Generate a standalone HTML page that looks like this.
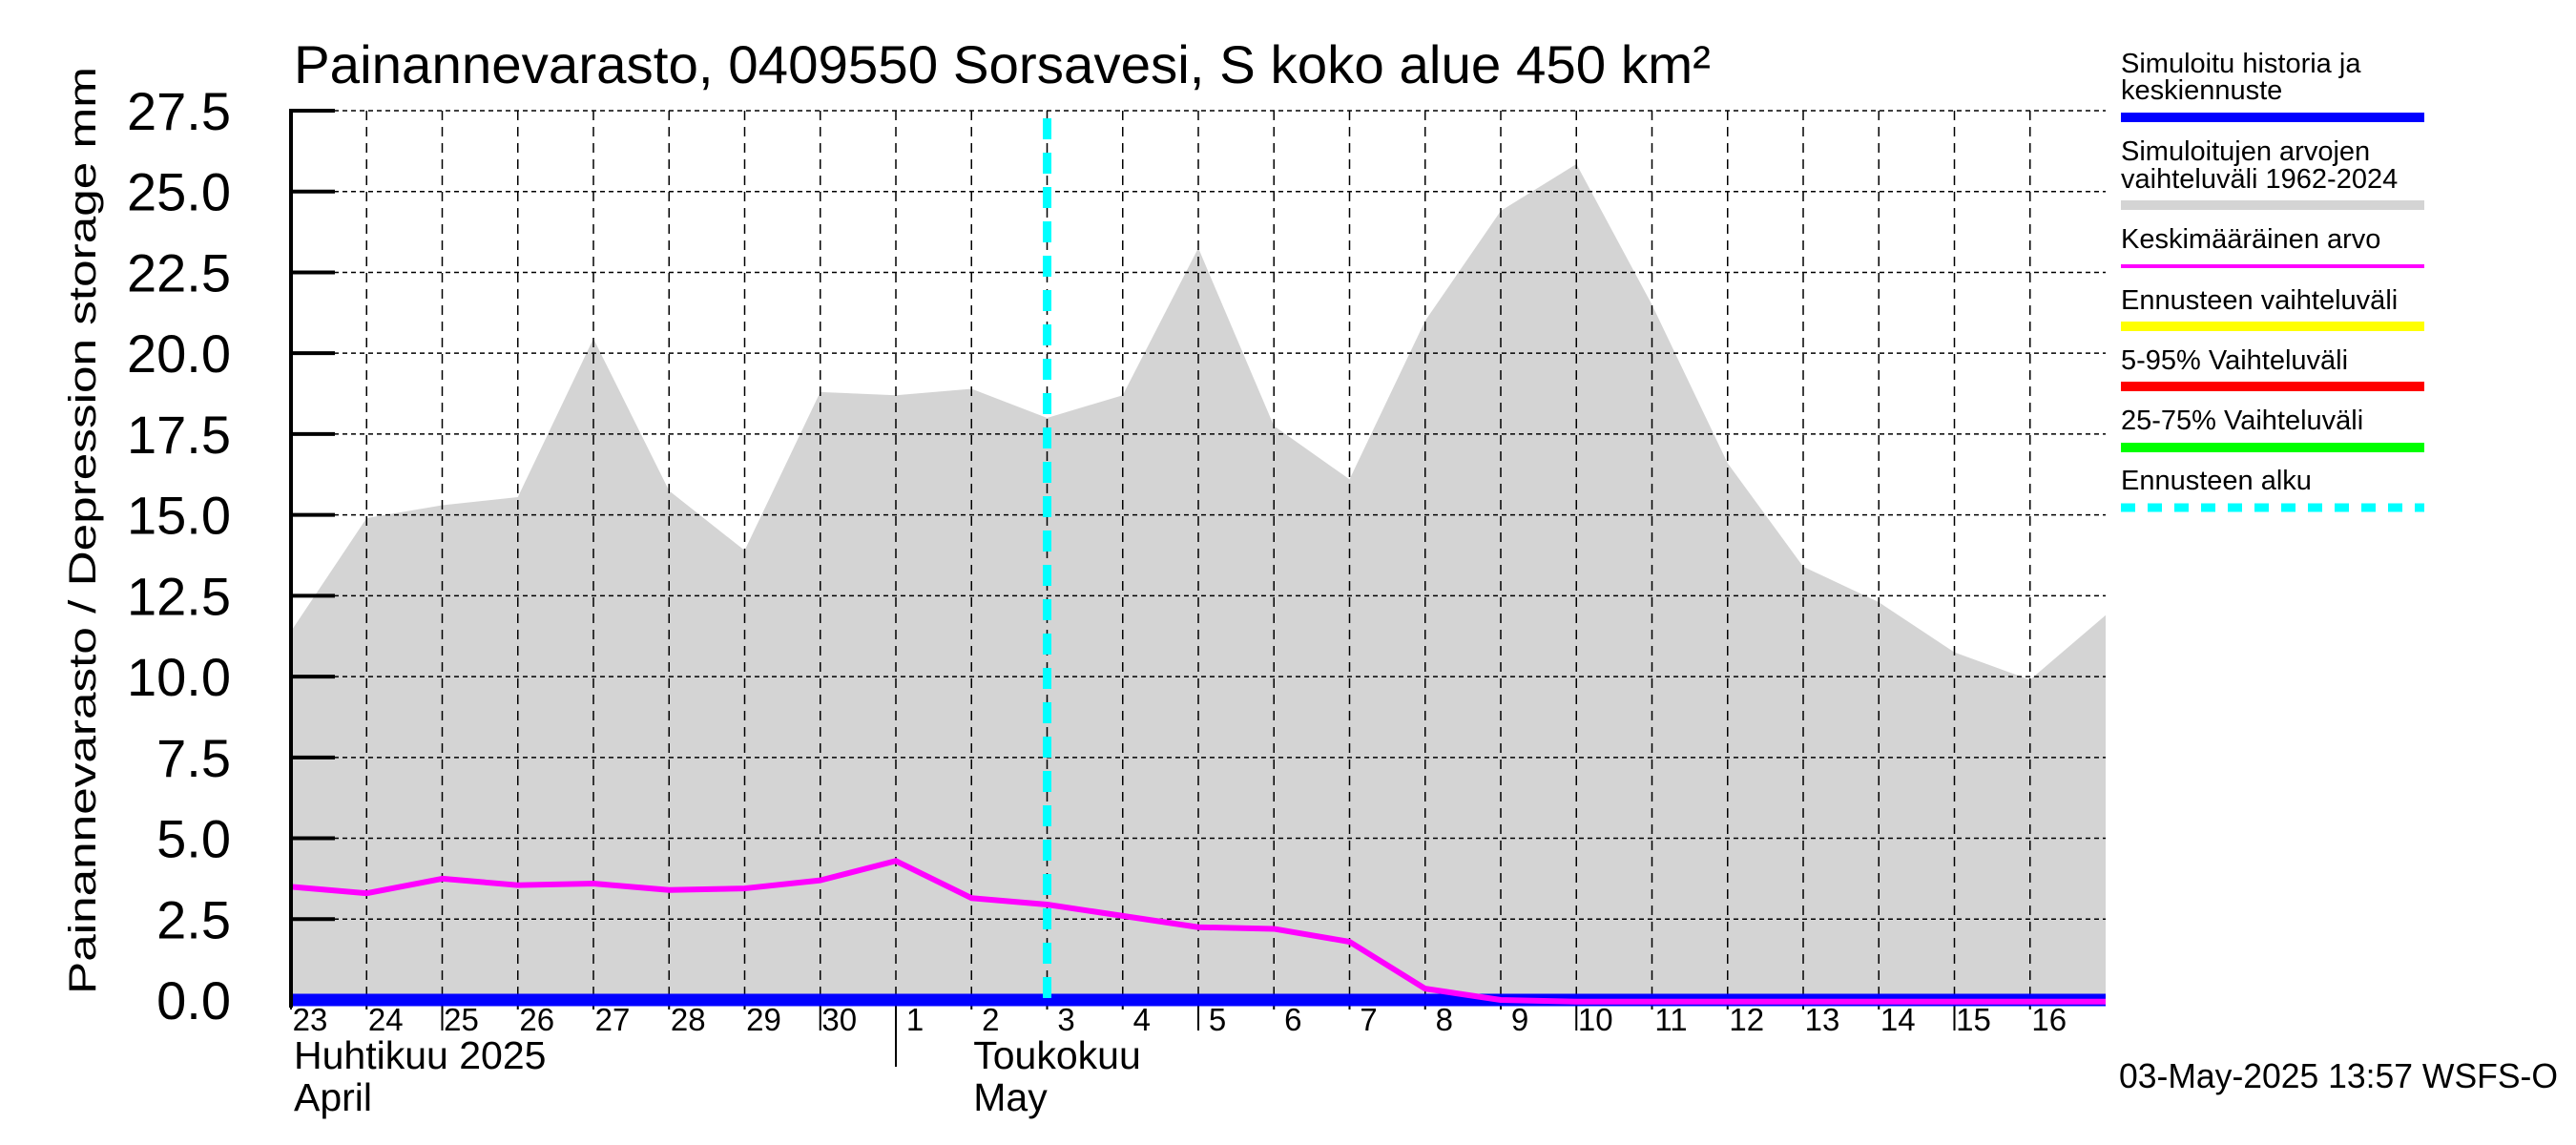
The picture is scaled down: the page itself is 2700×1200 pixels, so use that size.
<!DOCTYPE html>
<html><head><meta charset="utf-8"><style>
html,body{margin:0;padding:0;background:#fff;}
svg{display:block;}
text{font-family:"Liberation Sans",sans-serif;fill:#000;}
</style></head><body>
<svg id="chart" width="2700" height="1200" viewBox="0 0 2700 1200" xmlns="http://www.w3.org/2000/svg">
<rect x="0" y="0" width="2700" height="1200" fill="#fff"/>
<g id="plot"></g>
<text x="308" y="87" font-size="56" textLength="1485" lengthAdjust="spacingAndGlyphs">Painannevarasto, 0409550 Sorsavesi, S koko alue 450 km²</text>
<text transform="translate(100,1042) rotate(-90)" font-size="40" textLength="972" lengthAdjust="spacingAndGlyphs">Painannevarasto / Depression storage    mm</text>
<g id="legend">
<text x="2223" y="76" font-size="29">Simuloitu historia ja</text>
<text x="2223" y="104" font-size="29">keskiennuste</text>
<rect x="2223" y="118" width="318" height="10" fill="#0000ff"/>
<text x="2223" y="168" font-size="29">Simuloitujen arvojen</text>
<text x="2223" y="197" font-size="29">vaihteluväli 1962-2024</text>
<rect x="2223" y="210" width="318" height="10" fill="#d4d4d4"/>
<text x="2223" y="260" font-size="29">Keskimääräinen arvo</text>
<rect x="2223" y="277" width="318" height="4" fill="#ff00ff"/>
<text x="2223" y="324" font-size="29">Ennusteen vaihteluväli</text>
<rect x="2223" y="337" width="318" height="10" fill="#ffff00"/>
<text x="2223" y="387" font-size="29">5-95% Vaihteluväli</text>
<rect x="2223" y="400" width="318" height="10" fill="#ff0000"/>
<text x="2223" y="450" font-size="29">25-75% Vaihteluväli</text>
<rect x="2223" y="464" width="318" height="10" fill="#00ff00"/>
<text x="2223" y="513" font-size="29">Ennusteen alku</text>
<line x1="2223" y1="532" x2="2541" y2="532" stroke="#00ffff" stroke-width="9" stroke-dasharray="15 13"/>
</g>
<text x="2221" y="1140" font-size="36" textLength="460" lengthAdjust="spacingAndGlyphs">03-May-2025 13:57 WSFS-O</text>
</svg>
<script>
const dayLabels = ["23","24","25","26","27","28","29","30","1","2","3","4","5","6","7","8","9","10","11","12","13","14","15","16"];
const rangeMax = [11.4,14.9,15.3,15.55,20.45,15.75,13.9,18.8,18.7,18.9,18.0,18.7,23.25,17.75,16.1,21.0,24.4,25.85,21.5,16.6,13.4,12.3,10.75,9.9,11.9];
const meanValues = [3.5,3.3,3.75,3.55,3.6,3.4,3.45,3.7,4.3,3.15,2.95,2.6,2.25,2.2,1.8,0.35,0.0,-0.05,-0.05,-0.05,-0.05,-0.05,-0.05,-0.05,-0.05];
const historyValues = [0,0,0,0,0,0,0,0,0,0,0,0,0,0,0,0,0,0,0,0,0,0,0,0,0];
const yTicks = [0,2.5,5,7.5,10,12.5,15,17.5,20,22.5,25,27.5];
const yTickLabels = ["0.0","2.5","5.0","7.5","10.0","12.5","15.0","17.5","20.0","22.5","25.0","27.5"];
const forecastStartDay = 10;
const monthStartDay = 8;

const NS = "http://www.w3.org/2000/svg";
const X0 = 305, X1 = 2207, Y0 = 1048, YTOP = 116, YMAX = 27.5, NDAYS = 24;
function xs(d){ return X0 + d*(X1-X0)/NDAYS; }
function ys(v){ return Y0 - v*(Y0-YTOP)/YMAX; }
const plot = document.getElementById('plot');
function mk(tag, attrs, parent){
  const e = document.createElementNS(NS, tag);
  for (const k in attrs) e.setAttribute(k, attrs[k]);
  (parent||plot).appendChild(e);
  return e;
}

let pts = rangeMax.map((v,i)=>xs(i)+","+ys(v));
pts.push(xs(rangeMax.length-1)+","+ys(0), xs(0)+","+ys(0));
const poly = mk('polygon', {points: pts.join(' '), fill:'#d4d4d4'});



yTicks.forEach((v,i)=>{
  const g = mk('line', {x1:X0, x2:X1, y1:ys(v), y2:ys(v), stroke:'#000', 'stroke-width':1.5, 'stroke-dasharray':'5 4'});
  
  
  const t = mk('line', {x1:X0, x2:X0+46, y1:ys(v), y2:ys(v), stroke:'#000', 'stroke-width':4});
  
  
  const lb = mk('text', {x:242, y:ys(v)+20, 'font-size':56, 'text-anchor':'end'});
  lb.textContent = yTickLabels[i];
  
  
});

dayLabels.forEach((d,i)=>{
  if (i>0){
    const g = mk('line', {x1:xs(i), x2:xs(i), y1:YTOP, y2:Y0, stroke:'#000', 'stroke-width':1.5, 'stroke-dasharray':'10 7'});
    
    
  }
  const long = (i===monthStartDay);
  const major = (i%5===2);
  const t = mk('line', {x1:xs(i), x2:xs(i), y1:Y0, y2: long ? 1118 : (major ? 1080 : 1058), stroke:'#000', 'stroke-width':2});
  
  
  const lb = mk('text', {x:xs(i)+20, y:1080, 'font-size':33, 'text-anchor':'middle'});
  lb.textContent = d;
  
  
});

const hist = mk('polyline', {points: historyValues.map((v,i)=>xs(i)+","+ys(v)).join(' '), fill:'none', stroke:'#0000ff', 'stroke-width':13});



const mean = mk('polyline', {points: meanValues.map((v,i)=>xs(i)+","+ys(v)).join(' '), fill:'none', stroke:'#ff00ff', 'stroke-width':6, 'stroke-linejoin':'round'});



const fc = mk('line', {x1:xs(forecastStartDay), x2:xs(forecastStartDay), y1:124, y2:Y0, stroke:'#00ffff', 'stroke-width':9, 'stroke-dasharray':'22 14'});



const ax = mk('line', {x1:X0, x2:X0, y1:YTOP-2, y2:Y0+8, stroke:'#000', 'stroke-width':4});



[["Huhtikuu  2025",xs(0)+3,1120],["April",xs(0)+3,1164],["Toukokuu",xs(9)+2,1120],["May",xs(9)+2,1164]].forEach(m=>{
  const t = mk('text', {x:m[1], y:m[2], 'font-size':41, 'xml:space':'preserve'});
  t.textContent = m[0];
  
  
});
</script>
</body></html>
